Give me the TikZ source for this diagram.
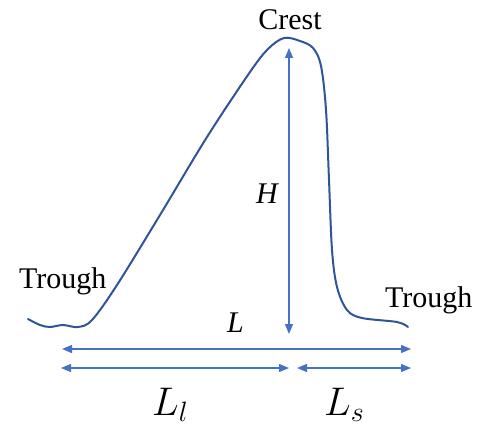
\documentclass[tikz,border=0pt]{standalone}
\usepackage{fix-cm}
\usepackage{fontspec}
\setmainfont{Liberation Serif}
\usetikzlibrary{arrows.meta}
\definecolor{curveblue}{HTML}{2F5597}
\definecolor{arrowblue}{HTML}{4472C4}
\tikzset{
  lbl/.style={inner sep=0pt, font=\fontsize{30}{36}\selectfont},
  mathlbl/.style={inner sep=0pt, font=\fontsize{40}{48}\selectfont},
  dim/.style={draw=arrowblue, line width=1.3pt, {Triangle[length=10pt,width=8pt]}-{Triangle[length=10pt,width=8pt]}, fill=arrowblue},
  wave/.style={draw=curveblue, line width=2pt, line cap=round, line join=round}
}
\begin{document}
\begin{tikzpicture}[x=1pt,y=-1pt]
\useasboundingbox (0,0) rectangle (478,425);
% wave profile
\draw[wave] plot[smooth, tension=0.55] coordinates {
 (28,319) (40,325) (50,327) (63,325) (78,327) (92,320) (117,285)
 (160,215) (207,137) (250,72) (268,49) (284,38) (300,41)
 (313,48) (321,66) (326,110) (329,180) (332,250)
 (337,287) (347,310) (362,318) (397,322) (408,327)};
% labels
\node[lbl, anchor=base] (crest) at (290,30) {Crest};
\node[lbl, anchor=base west] (troughL) at (19,288) {Trough};
\node[lbl, anchor=base west] (troughR) at (385,307) {Trough};
\node[lbl, anchor=base west] (hl) at (256,203) {\itshape H};
\node[lbl, anchor=base west] (ll) at (227,332) {\itshape L};
\node[mathlbl, anchor=base west] (lll) at (152,415) {$L_l$};
\node[mathlbl, anchor=base west] (lls) at (324,415) {$L_s$};
% dimension end points
\coordinate (htop) at (289,48);
\coordinate (hbot) at (289,334);
\coordinate (la) at (62,349);
\coordinate (lb) at (411,349);
\coordinate (lla) at (61,368);
\coordinate (llb) at (289,368);
\coordinate (lsa) at (297,368);
\coordinate (lsb) at (411,368);
% dimension arrows
\draw[dim] (htop) -- (hbot);
\draw[dim] (la) -- (lb);
\draw[dim] (lla) -- (llb);
\draw[dim] (lsa) -- (lsb);
\end{tikzpicture}
\end{document}
